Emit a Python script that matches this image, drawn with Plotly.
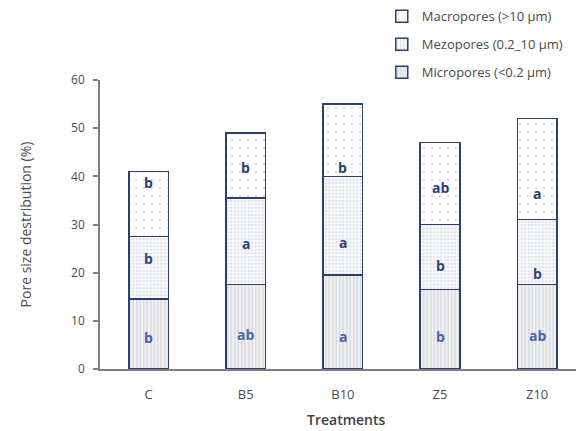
import plotly.graph_objects as go

# Pore size distribution (%) by treatment, stacked by pore class
treatments = ["C", "B5", "B10", "Z5", "Z10"]
micropores = [14.5, 17.5, 19.5, 16.5, 17.5]
mezopores = [13.0, 18.0, 20.5, 13.5, 13.5]
macropores = [13.5, 13.5, 15.0, 17.0, 21.0]

# Significance letters per segment
micro_letters = ["b", "ab", "a", "b", "ab"]
mezo_letters = ["b", "a", "a", "b", "b"]
macro_letters = ["b", "b", "b", "ab", "a"]

y_ticks = [0, 10, 20, 30, 40, 50, 60]

OUTLINE = "#2B3F73"
FONT = "Open Sans"
TXT = "#4A4A4A"

series = [
    ("Micropores (<0.2 \u00b5m)", micropores, micro_letters,
     dict(shape="|", size=3.5, solidity=0.4, fgcolor="#AFBBD6", bgcolor="#F3F2EF"),
     "#4566A8", [-3, -8, -14, -7, -9], 3),
    ("Mezopores (0.2_10 \u00b5m)", mezopores, mezo_letters,
     dict(shape=".", size=3.5, solidity=0.35, fgcolor="#B8C2D8", bgcolor="#FAFAFB"),
     "#2E4478", [9, -2, -17, -8, -21], 2),
    ("Macropores (>10 \u00b5m)", macropores, macro_letters,
     dict(shape=".", size=8, solidity=0.06, fgcolor="#9FAACB", bgcolor="#FFFFFF"),
     "#2B3F73", [22, -2, -27, -4, -24], 1),
]

fig = go.Figure()
annotations = []
base = [0.0] * len(treatments)
for i, (name, vals, letters, pattern, txtcol, shifts, rank) in enumerate(series):
    fig.add_trace(go.Bar(
        name=name,
        x=treatments,
        y=vals,
        width=0.407,
        legendrank=rank,
        legendgroup=f"g{i}",
        marker=dict(color=pattern["bgcolor"], pattern=pattern,
                    line=dict(color=OUTLINE, width=1.5)),
        hoverinfo="skip",
    ))
    for j, t in enumerate(treatments):
        annotations.append(dict(
            x=t, y=base[j] + vals[j] / 2, xref="x", yref="y",
            text=f"<b>{letters[j]}</b>", showarrow=False,
            yshift=shifts[j],
            font=dict(family=FONT, size=14, color=txtcol),
        ))
        base[j] += vals[j]

annotations.append(dict(
    x=0.517, y=-0.176, xref="paper", yref="paper",
    text="Treatments", showarrow=False, xanchor="center", yanchor="middle",
    font=dict(family=FONT, size=14, color="#404040", weight=600),
))

fig.update_layout(
    width=576, height=431,
    barmode="stack",
    plot_bgcolor="white",
    paper_bgcolor="white",
    margin=dict(l=100, r=0, t=80, b=62, autoexpand=False),
    showlegend=True,
    legend=dict(
        x=0.592, y=1.272, xref="paper", yref="paper",
        xanchor="left", yanchor="top",
        traceorder="grouped",
        tracegroupgap=8,
        font=dict(family=FONT, size=13, color=TXT),
        bgcolor="rgba(0,0,0,0)",
        itemwidth=30,
    ),
    annotations=annotations,
    font=dict(family=FONT),
)

fig.update_xaxes(
    range=[-0.5, 4.4],
    showline=True, linecolor="#808080", linewidth=1.5,
    ticks="", showgrid=False,
    tickfont=dict(family=FONT, size=13, color=TXT),
    ticklabelstandoff=13,
)
fig.update_yaxes(
    range=[0, 60],
    tickvals=y_ticks,
    showline=True, linecolor="#808080", linewidth=1.5,
    ticks="outside", ticklen=5, tickcolor="#808080", tickwidth=1.5,
    showgrid=False, zeroline=False,
    tickfont=dict(family=FONT, size=12, color=TXT),
    ticklabelstandoff=6,
    title=dict(text="Pore size destribution (%)", standoff=36,
               font=dict(family=FONT, size=14, color=TXT)),
)

fig.write_html("out.html")
